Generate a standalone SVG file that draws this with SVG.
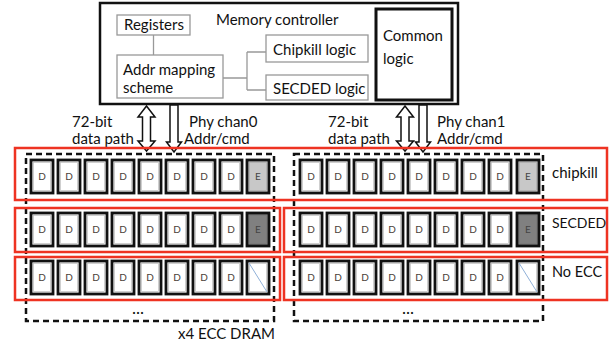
<svg xmlns="http://www.w3.org/2000/svg" width="611" height="345" viewBox="0 0 611 345">
<style>
text{font-family:Lato,"Liberation Sans",Arial,sans-serif;fill:#111}
.t13{font-size:15px}
.sub{fill:#fff;stroke:#999;stroke-width:1.3}
.ln{fill:none;stroke:#999;stroke-width:1.3}
.red{fill:none;stroke:#ee3322;stroke-width:2.5}
.dash{fill:none;stroke:#111;stroke-width:2.5;stroke-dasharray:6,4}
.arr{fill:#fff;stroke:#111;stroke-width:1.5;stroke-linejoin:miter}
.d{font-size:10px;fill:#4a4036;text-anchor:middle}
.e{font-size:10px;fill:#444;text-anchor:middle}
</style>
<defs>
<g id="chip"><rect x="0" y="0" width="22" height="33" fill="#fff" stroke="#111" stroke-width="2.8"/><rect x="2.6" y="2.6" width="16.8" height="27.8" fill="none" stroke="#bbb" stroke-width="0.7"/></g>
<g id="chipL"><rect x="0" y="0" width="22" height="33" fill="#c8c8c8" stroke="#111" stroke-width="2.8"/><rect x="2.6" y="2.6" width="16.8" height="27.8" fill="none" stroke="#aaa" stroke-width="0.7"/></g>
<g id="chipD"><rect x="0" y="0" width="22" height="33" fill="#808080" stroke="#111" stroke-width="2.8"/><rect x="2.6" y="2.6" width="16.8" height="27.8" fill="none" stroke="#777" stroke-width="0.7"/></g>
<g id="chipN"><rect x="0" y="0" width="22" height="33" fill="#fff" stroke="#111" stroke-width="2.8"/><rect x="2.6" y="2.6" width="16.8" height="27.8" fill="none" stroke="#bbb" stroke-width="0.7"/><line x1="2" y1="2" x2="20" y2="31" stroke="#8fb0d8" stroke-width="1"/></g>
<g id="rowD">
<use href="#chip" x="0"/><text class="d" x="11" y="20">D</text>
<use href="#chip" x="27"/><text class="d" x="38" y="20">D</text>
<use href="#chip" x="54"/><text class="d" x="65" y="20">D</text>
<use href="#chip" x="81"/><text class="d" x="92" y="20">D</text>
<use href="#chip" x="108"/><text class="d" x="119" y="20">D</text>
<use href="#chip" x="135"/><text class="d" x="146" y="20">D</text>
<use href="#chip" x="162"/><text class="d" x="173" y="20">D</text>
<use href="#chip" x="189"/><text class="d" x="200" y="20">D</text>
</g>
</defs>

<g id="memory-controller">
<rect x="100" y="3" width="358" height="101" fill="#fff" stroke="#111" stroke-width="2.5"/>
<text class="t13" x="216" y="25">Memory controller</text>
</g>
<g id="registers"><rect class="sub" x="117" y="15" width="73" height="20"/><text class="t13" x="124" y="30">Registers</text></g>
<g id="addr-mapping"><rect class="sub" x="117" y="55" width="106" height="43"/><text class="t13" x="123" y="75">Addr mapping</text><text class="t13" x="123" y="93">scheme</text></g>
<g id="chipkill-logic"><rect class="sub" x="266" y="35" width="102" height="27"/><text class="t13" x="273" y="55">Chipkill logic</text></g>
<g id="secded-logic"><rect class="sub" x="266" y="75" width="102" height="25"/><text class="t13" x="273" y="94">SECDED logic</text></g>
<g id="common-logic"><rect x="376" y="9" width="76" height="91" fill="#fff" stroke="#111" stroke-width="3"/><text class="t13" x="383" y="41">Common</text><text class="t13" x="383" y="64">logic</text></g>

<g id="connectors">
<line class="ln" x1="153.5" y1="35" x2="153.5" y2="55"/>
<path class="ln" d="M223,78 H247 M247,52 V90 M247,52 H266 M247,90 H266"/>
<polygon class="arr" points="146.5,106 155,117 150.5,117 150.5,141 155,141 146.5,151 138,141 142.5,141 142.5,117 138,117"/>
<polygon class="arr" points="170,105 178,105 178,142 181.5,142 174,152 166.5,142 170,142"/>
<polygon class="arr" points="405,106 413.5,117 409,117 409,141 413.5,141 405,151 396.5,141 401,141 401,117 396.5,117"/>
<polygon class="arr" points="419,105 427,105 427,142 430.5,142 423,152 415.5,142 419,142"/>
</g>

<g id="labels">
<text class="t13" x="72" y="127">72-bit</text>
<text class="t13" x="72" y="144">data path</text>
<text class="t13" x="189" y="127">Phy chan0</text>
<text class="t13" x="184" y="144">Addr/cmd</text>
<text class="t13" x="328" y="127">72-bit</text>
<text class="t13" x="328" y="144">data path</text>
<text class="t13" x="437" y="127">Phy chan1</text>
<text class="t13" x="437" y="144">Addr/cmd</text>
</g>

<g id="dram-left">
<rect class="dash" x="26" y="154" width="248" height="167"/>
<g transform="translate(31,160)"><use href="#rowD"/><use href="#chipL" x="216"/><text class="e" x="227" y="20">E</text></g>
<g transform="translate(31,213)"><use href="#rowD"/><use href="#chipD" x="216"/><text class="e" x="227" y="20">E</text></g>
<g transform="translate(31,261)"><use href="#rowD"/><use href="#chipN" x="216"/></g>
<text x="132" y="314" font-size="17px">...</text>
</g>
<g id="dram-right">
<rect class="dash" x="294" y="154" width="249" height="167"/>
<g transform="translate(300,160)"><use href="#rowD"/><use href="#chipL" x="217"/><text class="e" x="228" y="20">E</text></g>
<g transform="translate(300,213)"><use href="#rowD"/><use href="#chipD" x="217"/><text class="e" x="228" y="20">E</text></g>
<g transform="translate(300,261)"><use href="#rowD"/><use href="#chipN" x="217"/></g>
<text x="402" y="314" font-size="17px">...</text>
</g>

<g id="modes">
<rect class="red" x="15" y="148" width="592" height="52"/>
<rect class="red" x="15" y="208" width="265" height="44"/>
<rect class="red" x="284" y="208" width="323" height="44"/>
<rect class="red" x="15" y="257" width="265" height="43"/>
<rect class="red" x="284" y="257" width="323" height="43"/>
<text class="t13" x="552" y="178">chipkill</text>
<text x="552" y="228" font-size="14px">SECDED</text>
<text x="552" y="277" font-size="14.5px">No ECC</text>
</g>
<text class="t13" x="178" y="339">x4 ECC DRAM</text>
</svg>
